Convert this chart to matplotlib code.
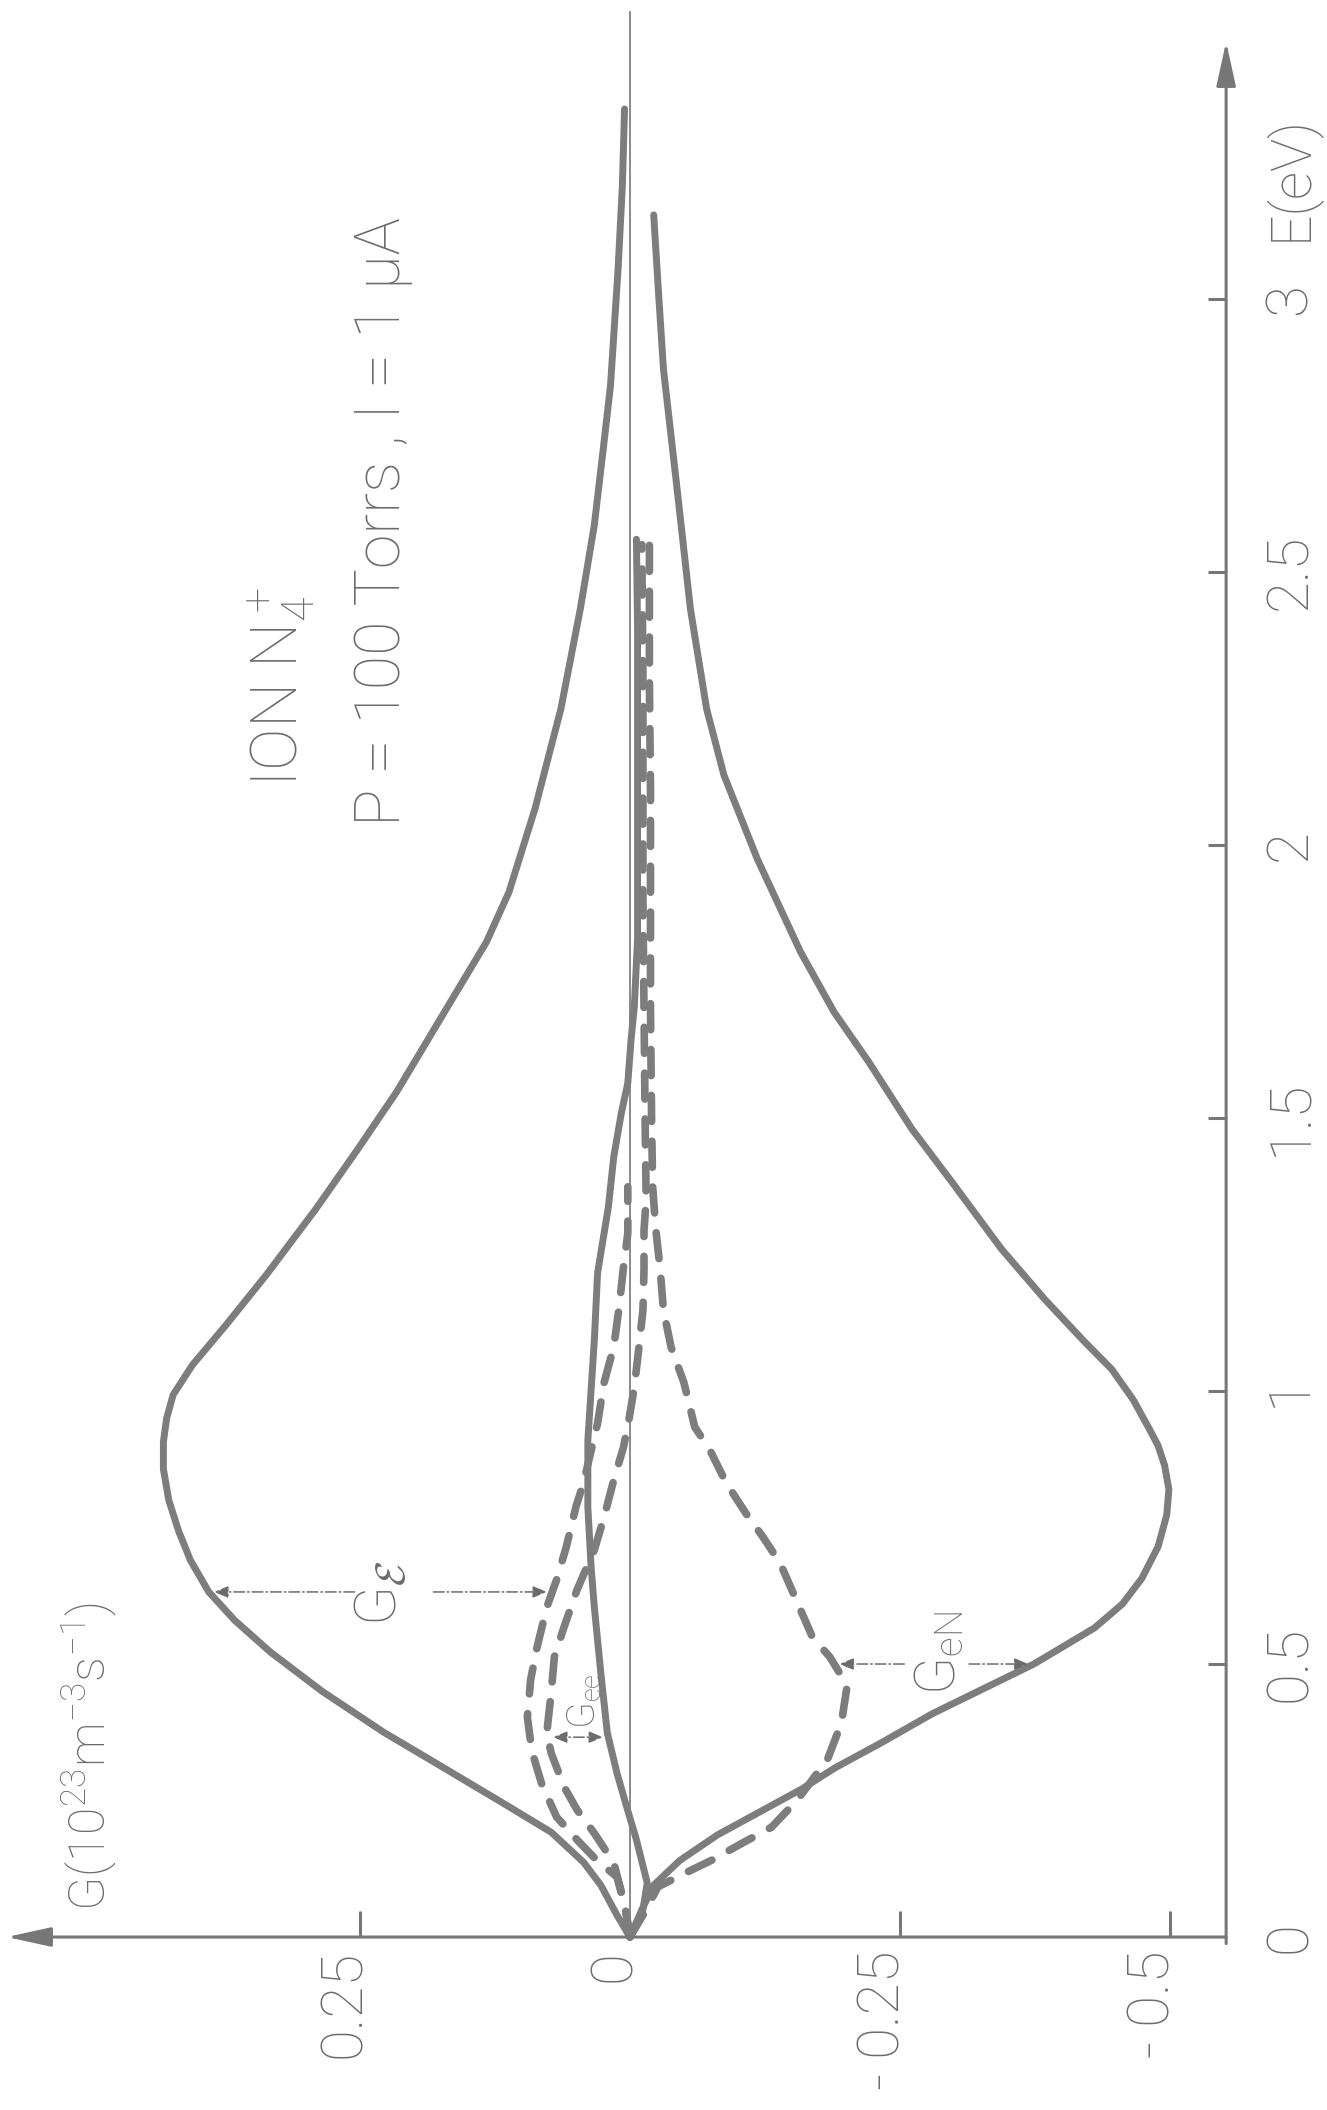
import numpy as np
import matplotlib
matplotlib.use('Agg')
import matplotlib.pyplot as plt
from matplotlib import font_manager

# ----- digitised curves: energy E (eV) and source term G (1e23 m^-3 s^-1) -----
# total gain (upper solid envelope)
e_gain = [0, 0.04, 0.095, 0.137, 0.192, 0.247, 0.32, 0.375, 0.45, 0.522, 0.58, 0.632,
          0.69, 0.744, 0.80, 0.857, 0.907, 0.95, 0.993, 1.048, 1.121, 1.212, 1.333, 1.443,
          1.548, 1.70, 1.822, 1.914, 2.066, 2.249, 2.432, 2.586, 2.738, 2.842, 3.055,
          3.209, 3.348]
g_gain = [0, 0.012, 0.027, 0.043, 0.073, 0.119, 0.181, 0.228, 0.285, 0.333, 0.366, 0.390,
          0.407, 0.418, 0.427, 0.432, 0.432, 0.429, 0.423, 0.405, 0.374, 0.337, 0.291, 0.252,
          0.216, 0.170, 0.133, 0.112, 0.088, 0.064, 0.046, 0.033, 0.024, 0.018, 0.011,
          0.007, 0.005]

# total loss (lower solid envelope)
e_loss = [0, 0.05, 0.095, 0.14, 0.187, 0.271, 0.31, 0.355, 0.409, 0.50, 0.566, 0.61,
          0.657, 0.715, 0.773, 0.82, 0.864, 0.90, 0.93, 0.984, 1.04, 1.09, 1.168, 1.26,
          1.383, 1.48, 1.603, 1.694, 1.804, 1.974, 2.128, 2.249, 2.432, 2.628, 2.872,
          3.025, 3.154]
g_loss = [0, -0.011, -0.022, -0.046, -0.081, -0.159, -0.190, -0.232, -0.280, -0.374,
          -0.430, -0.456, -0.474, -0.489, -0.497, -0.499, -0.495, -0.489, -0.481, -0.466,
          -0.446, -0.421, -0.384, -0.344, -0.298, -0.261, -0.221, -0.189, -0.158, -0.118,
          -0.087, -0.071, -0.056, -0.045, -0.031, -0.026, -0.022]

# net term (inner solid, close to zero)
e_net = [0, 0.05, 0.099, 0.178, 0.238, 0.300, 0.374, 0.484, 0.604, 0.678, 0.788, 0.910,
         1.093, 1.216, 1.337, 1.429, 1.509, 1.564, 1.643, 1.703, 1.826, 2.0, 2.2, 2.4, 2.56]
g_net = [0, -0.012, -0.016, -0.006, 0.003, 0.012, 0.021, 0.027, 0.033, 0.036, 0.039, 0.039,
         0.033, 0.030, 0.020, 0.015, 0.008, 0.002, -0.001, -0.004, -0.007, -0.007, -0.007,
         -0.007, -0.006]

# dashed: field gain G_E
e_field = [0, 0.05, 0.110, 0.141, 0.178, 0.220, 0.282, 0.342, 0.403, 0.471, 0.531, 0.604,
           0.654, 0.714, 0.788, 0.832, 0.941, 1.015, 1.081, 1.154, 1.227, 1.289, 1.374]
g_field = [0, 0.004, 0.012, 0.031, 0.049, 0.068, 0.082, 0.091, 0.095, 0.092, 0.086, 0.077,
           0.068, 0.059, 0.050, 0.043, 0.030, 0.024, 0.015, 0.010, 0.006, 0.002, 0.002]

# dashed: electron-electron term G_ee
e_ee = [0, 0.06, 0.136, 0.190, 0.233, 0.275, 0.337, 0.374, 0.447, 0.513, 0.568, 0.636,
        0.709, 0.769, 0.837, 0.897, 0.947, 1.007, 1.075, 1.148, 1.222, 1.295, 1.35, 1.5,
        1.7, 1.9, 2.1, 2.3, 2.55]
g_ee = [0, 0.005, 0.015, 0.033, 0.049, 0.061, 0.073, 0.077, 0.073, 0.070, 0.061, 0.049,
        0.033, 0.024, 0.015, 0.006, 0.001, -0.004, -0.008, -0.012, -0.013, -0.013, -0.015,
        -0.014, -0.013, -0.012, -0.012, -0.012, -0.011]

# dashed: electron-neutral term G_eN
e_en = [0, 0.04, 0.092, 0.117, 0.141, 0.172, 0.201, 0.251, 0.326, 0.393, 0.421, 0.459,
        0.484, 0.513, 0.549, 0.617, 0.685, 0.733, 0.777, 0.832, 0.892, 0.934, 1.015, 1.081,
        1.148, 1.222, 1.295, 1.374, 1.5, 1.7, 1.9, 2.1, 2.3, 2.55]
g_en = [0, -0.012, -0.026, -0.051, -0.076, -0.104, -0.131, -0.155, -0.183, -0.196, -0.198,
        -0.201, -0.194, -0.185, -0.169, -0.154, -0.139, -0.123, -0.107, -0.089, -0.074,
        -0.060, -0.050, -0.038, -0.031, -0.028, -0.024, -0.021, -0.020, -0.019, -0.019,
        -0.019, -0.018, -0.018]

# axes ticks
g_ticks = [0.25, 0, -0.25, -0.5]
g_ticklabels = ['0.25', '0', '- 0.25', '- 0.5']
e_ticks = [0, 0.5, 1, 1.5, 2, 2.5, 3]
e_ticklabels = ['0', '0.5', '1', '1.5', '2', '2.5', '3']

# ----- fonts / colours -----
installed = {f.name for f in font_manager.fontManager.ttflist}
FONT = 'Roboto' if 'Roboto' in installed else 'DejaVu Sans'
plt.rcParams['font.family'] = [FONT, 'DejaVu Sans']
plt.rcParams['font.weight'] = 'light'
plt.rcParams['mathtext.fontset'] = 'custom'
plt.rcParams['mathtext.rm'] = FONT
plt.rcParams['mathtext.default'] = 'regular'

INK = '#7d7d7d'
TXT = '#6c6c6c'
AXC = '#777777'

# whole sheet is one axes; the plot is drawn turned a quarter turn (E upwards, G to the left)
fig = plt.figure(figsize=(13.27, 21.10), dpi=100)
ax = fig.add_axes([0, 0, 1, 1])
ax.set_xlim(0.5833, -0.6454)
ax.set_ylim(-0.3168, 3.5476)
ax.axis('off')

G_RIGHT = -0.552      # where the E axis stands
G_ARROW = 0.577       # tip of the G axis arrow
E_ARROW = 3.471       # tip of the E axis arrow

def vtext(g, e, s, size, ha='center', **kw):
    ax.text(g, e, s, rotation=90, rotation_mode='anchor', ha=ha, va='baseline',
            fontsize=size, color=TXT, **kw)

# --- axes with arrows ---
head = '-|>,head_length=1.0,head_width=0.22'
ax.annotate('', xy=(G_ARROW, 0), xytext=(G_RIGHT, 0),
            arrowprops=dict(arrowstyle=head, color=AXC, lw=2.2, mutation_scale=27,
                            shrinkA=0, shrinkB=0))
ax.annotate('', xy=(G_RIGHT, E_ARROW), xytext=(G_RIGHT, -0.012),
            arrowprops=dict(arrowstyle=head, color=AXC, lw=2.2, mutation_scale=27,
                            shrinkA=0, shrinkB=0))
ax.plot([0, 0], [0, 3.526], color=AXC, lw=1.2)

for g in g_ticks:
    if g != 0:
        ax.plot([g, g], [0, 0.047], color=AXC, lw=2.2, solid_capstyle='butt')
for e in e_ticks[1:]:
    ax.plot([G_RIGHT, G_RIGHT + 0.017], [e, e], color=AXC, lw=2.2, solid_capstyle='butt')

for g, lab in zip(g_ticks, g_ticklabels):
    vtext(g, -0.024, lab, 42, ha='right')
for e, lab in zip(e_ticks, e_ticklabels):
    vtext(-0.626, e, lab, 42)
vtext(-0.626, 3.222, 'E(eV)', 40)
vtext(0.486, 0.331, r'G(10$^{23}$m$^{-3}$s$^{-1}$)', 36)

vtext(0.307, 2.289, r'ION N$_4^+$', 46)
vtext(0.213, 2.592, 'P = 100 Torrs , I = 1 µA', 45)

# --- curves ---
solid = dict(color=INK, lw=5.0, solid_capstyle='round', solid_joinstyle='round')
dashed = dict(color=INK, lw=5.5, linestyle=(0, (3.4, 2.6)), dash_capstyle='round')
ax.plot(g_gain, e_gain, **solid)
ax.plot(g_loss, e_loss, **solid)
ax.plot(g_net, e_net, **solid)
ax.plot(g_field, e_field, **dashed)
ax.plot(g_ee, e_ee, **dashed)
ax.plot(g_en, e_en, **dashed)

# --- pointers naming the terms ---
PAD = 0.005
pstyle = '-|>,head_length=0.6,head_width=0.25'

def pointer(g_from, g_curve, e, style=pstyle):
    tip = g_curve + PAD * np.sign(g_from - g_curve)
    ax.annotate('', xy=(tip, e), xytext=(g_from, e),
                arrowprops=dict(arrowstyle=style, color=TXT, lw=1.1,
                                linestyle=(0, (7, 2, 1, 2)), mutation_scale=14,
                                shrinkA=0, shrinkB=0))

e_ge = 0.632
pointer(0.255, np.interp(e_ge, e_gain, g_gain), e_ge)
pointer(0.182, np.interp(e_ge, e_field, g_field), e_ge)
vtext(0.216, 0.630, r'G$_{\mathcal{E}}$', 42, math_fontfamily='cm')

e_gee = 0.366
g_a = np.interp(e_gee, e_ee, g_ee) - PAD
g_b = np.interp(e_gee, e_net, g_net) + PAD
ax.annotate('', xy=(g_b, e_gee), xytext=(g_a, e_gee),
            arrowprops=dict(arrowstyle='<|-|>,head_length=0.6,head_width=0.25', color=TXT,
                            lw=1.1, linestyle=(0, (7, 2, 1, 2)), mutation_scale=14,
                            shrinkA=0, shrinkB=0))
vtext(0.032, 0.432, r'G$_{ee}$', 28)

e_gen = 0.50
pointer(-0.254, np.interp(e_gen, e_en, g_en), e_gen)
pointer(-0.314, np.interp(e_gen, e_loss, g_loss), e_gen)
vtext(-0.301, 0.52, r'G$_{eN}$', 40)

fig.savefig('out.png', dpi=100, facecolor='white')
